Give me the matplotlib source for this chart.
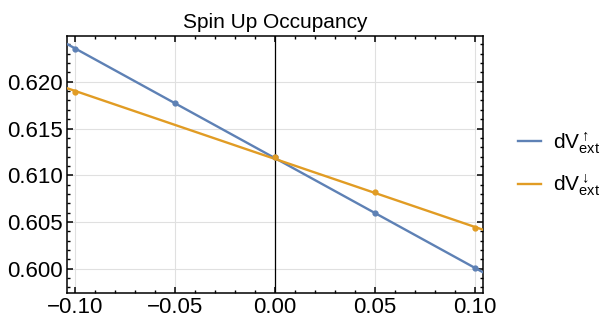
import numpy as np
from matplotlib import pyplot as plt
from matplotlib.ticker import MultipleLocator

plt.rcParams['font.family'] = ['Liberation Sans', 'DejaVu Sans']
plt.rcParams['mathtext.fontset'] = 'custom'
plt.rcParams['mathtext.rm'] = 'Liberation Sans'
plt.rcParams['mathtext.it'] = 'Liberation Sans'

# data
x_up = [-0.10, -0.05, 0.00, 0.05, 0.10]
occ_up = [0.62356, 0.61768, 0.61190, 0.60593, 0.60007]
x_down = [-0.10, 0.00, 0.05, 0.10]
occ_down = [0.61893, 0.61190, 0.60818, 0.60433]

blue = '#5e81b5'
orange = '#e19c24'
xlim = (-0.104, 0.104)
ylim = (0.5974, 0.6249)

fig = plt.figure(figsize=(6.02, 3.24), dpi=100)
ax = fig.add_axes([0.1113, 0.0957, 0.691, 0.7932])

# straight lines through the points, carried out to the frame
xx = np.array(xlim)
for xs, ys, c, lab in [(x_up, occ_up, blue, r'dV$_{\mathrm{ext}}^{\uparrow}$'),
                       (x_down, occ_down, orange, r'dV$_{\mathrm{ext}}^{\downarrow}$')]:
    k, b = np.polyfit(xs, ys, 1)
    ax.plot(xx, k * xx + b, color=c, lw=1.7, label=lab, zorder=3)
    ax.plot(xs, ys, 'o', color=c, ms=3.5, zorder=4)

ax.axvline(0, color='black', lw=0.9, zorder=2)

ax.set_xlim(*xlim)
ax.set_ylim(*ylim)
ax.xaxis.set_major_locator(MultipleLocator(0.05))
ax.xaxis.set_minor_locator(MultipleLocator(0.01))
ax.yaxis.set_major_locator(MultipleLocator(0.005))
ax.yaxis.set_minor_locator(MultipleLocator(0.001))
ax.set_xticks([-0.1, -0.05, 0, 0.05, 0.1])
ax.set_xticklabels(['\u22120.10', '\u22120.05', '0.00', '0.05', '0.10'])
ax.set_yticks([0.600, 0.605, 0.610, 0.615, 0.620])
ax.set_yticklabels(['0.600', '0.605', '0.610', '0.615', '0.620'])
ax.grid(True, color='#e0e0e0', lw=0.8, zorder=0)

ax.tick_params(which='both', direction='in', top=True, right=True, labelsize=16, pad=3)
ax.tick_params(which='major', length=4, width=1.1)
ax.tick_params(which='minor', length=2.3, width=1)
for s in ax.spines.values():
    s.set_linewidth(1.1)

ax.set_title('Spin Up Occupancy', fontsize=15, pad=6)

ax.legend(loc='center left', bbox_to_anchor=(1.05, 0.5), frameon=False,
          fontsize=15, handlelength=1.1, handletextpad=0.55, labelspacing=0.8,
          borderpad=0.2)

fig.savefig('out.png', dpi=100)
